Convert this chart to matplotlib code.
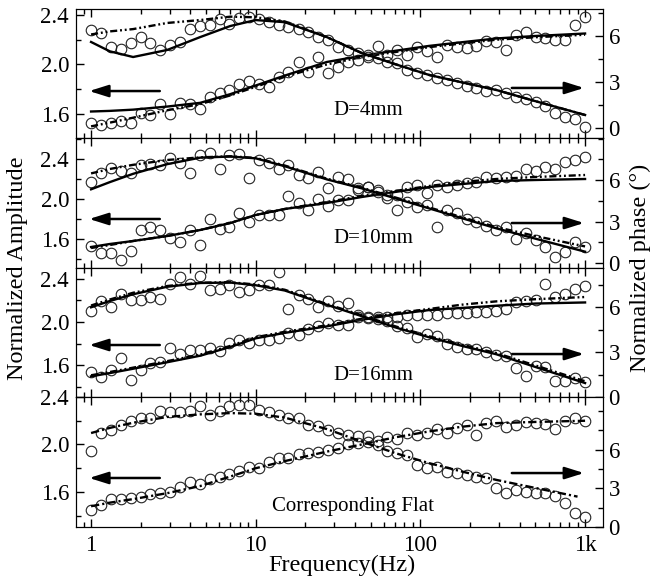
import matplotlib
matplotlib.use("Agg")
import matplotlib.pyplot as plt
from matplotlib.ticker import FixedLocator, MultipleLocator, NullFormatter

plt.rcParams['font.family'] = ['Liberation Serif', 'DejaVu Serif']
plt.rcParams['font.size'] = 16.5

# Measured frequencies (Hz)
freq = [1, 1.15, 1.32, 1.51, 1.74, 2.0, 2.29, 2.63, 3.02, 3.47, 3.98, 4.57, 5.25,
        6.03, 6.92, 7.94, 9.12, 10.5, 12.0, 13.8, 15.8, 18.2, 20.9, 24.0, 27.5,
        31.6, 36.3, 41.7, 47.9, 55.0, 63.1, 72.4, 83.2, 95.5, 110, 126, 145, 166,
        191, 219, 251, 288, 331, 380, 437, 501, 575, 661, 759, 871, 1000]

# D=4mm
amp_4mm = [1.53, 1.51, 1.53, 1.54, 1.53, 1.61, 1.59, 1.68, 1.60, 1.69, 1.68, 1.64, 1.74,
           1.77, 1.79, 1.84, 1.87, 1.84, 1.82, 1.90, 1.94, 2.02, 1.94, 2.06, 1.93,
           1.98, 2.02, 2.04, 2.06, 2.15, 2.08, 2.12, 2.08, 2.14, 2.11, 2.06, 2.16, 2.14,
           2.13, 2.15, 2.19, 2.18, 2.12, 2.24, 2.26, 2.22, 2.21, 2.20, 2.20, 2.32, 2.38]
phase_4mm = [6.39, 6.19, 5.28, 5.15, 5.54, 5.93, 5.54, 5.09, 5.41, 5.61, 6.45, 6.65, 6.72,
             7.10, 6.78, 7.17, 7.24, 7.10, 6.91, 6.72, 6.59, 6.45, 6.26, 5.93, 5.74,
             5.28, 5.09, 4.89, 4.76, 4.56, 4.30, 4.24, 3.78, 3.59, 3.46, 3.26, 3.13, 2.93,
             2.74, 2.61, 2.41, 2.48, 2.28, 2.02, 1.89, 1.70, 1.43, 0.98, 0.72, 0.59, 0.07]

# D=10mm
amp_10mm = [1.53, 1.46, 1.46, 1.39, 1.48, 1.69, 1.72, 1.69, 1.61, 1.57, 1.69, 1.54, 1.80,
            1.70, 1.72, 1.86, 1.77, 1.84, 1.84, 1.84, 2.03, 1.96, 1.89, 2.00, 1.93,
            1.99, 1.99, 2.09, 2.12, 2.07, 2.04, 2.04, 2.12, 2.14, 2.06, 2.14, 2.12, 2.14,
            2.16, 2.17, 2.22, 2.21, 2.22, 2.23, 2.30, 2.28, 2.32, 2.30, 2.37, 2.39, 2.42]
phase_10mm = [5.88, 6.53, 6.85, 6.67, 6.53, 7.09, 7.16, 7.09, 7.57, 7.21, 6.53, 7.81, 7.93,
              6.77, 7.81, 7.86, 6.12, 7.45, 7.26, 6.77, 7.09, 6.36, 6.12, 6.60, 5.40,
              6.24, 6.05, 5.40, 5.52, 5.28, 4.68, 3.83, 4.43, 4.07, 4.19, 2.62, 3.83, 3.59,
              3.16, 2.99, 2.68, 2.39, 2.62, 1.71, 2.19, 1.66, 1.18, 0.46, 0.82, 1.54, 1.18]

# D=16mm
amp_16mm = [1.54, 1.49, 1.56, 1.67, 1.47, 1.56, 1.62, 1.63, 1.76, 1.71, 1.74, 1.74, 1.76,
            1.73, 1.81, 1.83, 1.81, 1.83, 1.83, 1.85, 1.90, 1.88, 1.94, 1.96, 1.99,
            1.97, 1.97, 2.05, 2.05, 2.03, 2.05, 2.05, 2.06, 2.06, 2.06, 2.06, 2.08, 2.08,
            2.08, 2.09, 2.09, 2.10, 2.12, 2.18, 2.19, 2.20, 2.35, 2.23, 2.26, 2.30, 2.33]
phase_16mm = [5.72, 6.37, 5.98, 6.85, 6.48, 6.48, 6.70, 6.54, 7.56, 8.00, 7.56, 8.06, 7.13,
              7.20, 7.50, 7.02, 7.13, 7.45, 7.45, 8.33, 5.89, 6.80, 6.54, 5.98, 6.37,
              6.05, 6.26, 5.50, 5.28, 5.33, 5.07, 4.74, 4.63, 3.98, 4.19, 4.09, 3.54, 3.33,
              3.22, 3.22, 3.00, 2.79, 2.72, 1.91, 1.37, 2.07, 2.02, 1.04, 1.04, 1.26, 0.98]

# Corresponding flat
amp_flat = [1.45, 1.49, 1.54, 1.54, 1.55, 1.56, 1.58, 1.59, 1.60, 1.64, 1.68, 1.67, 1.71,
            1.73, 1.75, 1.78, 1.81, 1.80, 1.85, 1.89, 1.89, 1.92, 1.93, 1.94, 1.95,
            1.97, 2.00, 2.01, 2.02, 2.03, 2.06, 2.05, 2.10, 2.08, 2.10, 2.13, 2.10, 2.14,
            2.16, 2.08, 2.18, 2.20, 2.15, 2.16, 2.19, 2.18, 2.17, 2.13, 2.20, 2.22, 2.20]
phase_flat = [5.94, 7.30, 7.56, 7.95, 8.21, 8.47, 8.47, 8.98, 8.90, 8.90, 8.98, 9.37, 8.72,
              8.98, 9.37, 9.50, 9.50, 9.06, 8.90, 8.72, 8.47, 8.47, 7.95, 7.82, 7.56,
              7.30, 7.17, 7.04, 7.04, 6.39, 5.87, 5.74, 5.61, 4.83, 4.57, 4.70, 4.31, 4.18,
              4.05, 3.92, 3.79, 3.01, 2.67, 2.88, 2.75, 2.62, 2.62, 2.41, 1.85, 1.11, 0.80]

# Model curves (solid and dash-dot)
fit_f = [1, 1.3, 1.8, 2.9, 4.6, 7, 10, 15, 27, 44, 70, 113, 180, 289, 500, 1000]
fit_f_flat = [1, 1.3, 1.8, 2.9, 4.6, 7, 10, 15, 27, 44, 70, 113, 180, 289, 500, 900]

amp_4mm_solid = [1.62, 1.625, 1.635, 1.66, 1.69, 1.76, 1.83, 1.91, 2.02, 2.07, 2.11, 2.15, 2.18, 2.21, 2.23, 2.25]
amp_4mm_dd = [1.50, 1.53, 1.57, 1.63, 1.68, 1.75, 1.82, 1.90, 2.00, 2.06, 2.10, 2.14, 2.17, 2.20, 2.22, 2.24]
phase_4mm_solid = [5.61, 5.00, 4.63, 5.09, 5.93, 6.65, 7.04, 6.90, 5.93, 4.89, 4.17, 3.46, 2.97, 2.48, 1.75, 0.85]
phase_4mm_dd = [6.10, 6.30, 6.45, 6.85, 7.04, 7.26, 7.22, 6.95, 5.93, 4.89, 4.17, 3.46, 2.97, 2.48, 1.75, 0.85]

amp_10mm_solid = [1.52, 1.55, 1.58, 1.63, 1.69, 1.76, 1.84, 1.90, 1.96, 2.02, 2.07, 2.12, 2.15, 2.18, 2.19, 2.20]
amp_10mm_dd = [1.51, 1.54, 1.58, 1.63, 1.69, 1.76, 1.84, 1.90, 1.97, 2.03, 2.08, 2.13, 2.17, 2.20, 2.22, 2.24]
phase_10mm_solid = [5.33, 5.85, 6.45, 7.15, 7.62, 7.70, 7.57, 7.00, 6.05, 5.40, 4.69, 3.95, 3.23, 2.51, 1.76, 0.82]
phase_10mm_dd = [6.48, 6.80, 7.10, 7.45, 7.64, 7.72, 7.60, 7.05, 6.10, 5.45, 4.75, 4.02, 3.30, 2.60, 1.95, 1.20]

amp_16mm_solid = [1.50, 1.53, 1.57, 1.63, 1.69, 1.77, 1.85, 1.90, 1.96, 2.02, 2.07, 2.11, 2.13, 2.15, 2.17, 2.18]
amp_16mm_dd = [1.51, 1.54, 1.58, 1.64, 1.70, 1.78, 1.86, 1.91, 1.97, 2.03, 2.08, 2.12, 2.16, 2.19, 2.21, 2.23]
phase_16mm_solid = [5.98, 6.40, 6.85, 7.35, 7.60, 7.63, 7.45, 7.10, 6.15, 5.39, 4.65, 3.98, 3.40, 2.85, 2.00, 0.93]
phase_16mm_dd = [6.10, 6.50, 6.95, 7.40, 7.62, 7.65, 7.50, 7.15, 6.20, 5.45, 4.72, 4.05, 3.48, 2.93, 2.10, 1.05]

amp_flat_dd = [1.48, 1.51, 1.54, 1.59, 1.65, 1.73, 1.80, 1.86, 1.94, 2.00, 2.06, 2.11, 2.15, 2.18, 2.19, 2.20]
phase_flat_dd = [7.30, 7.70, 8.10, 8.55, 8.75, 8.85, 8.80, 8.50, 7.61, 6.64, 5.75, 4.96, 4.30, 3.66, 3.03, 2.36]

W, H = 655, 587
fig = plt.figure(figsize=(W / 100, H / 100), dpi=100)

x0, x1 = 76 / W, 603 / W
dd2 = (0, (3, 1.2, 0.8, 1.2, 0.8, 1.2))
dd1 = (0, (3.5, 1.3, 0.9, 1.3))

panels = [
    dict(top=9, bot=138, amp=amp_4mm, ph=phase_4mm,
         amp_fits=[(fit_f, amp_4mm_solid, '-'), (fit_f, amp_4mm_dd, dd2)],
         ph_fits=[(fit_f, phase_4mm_solid, '-'), (fit_f, phase_4mm_dd, dd2)],
         alim=(1.406, 2.448), plim=(-0.65, 7.76), label='D=4mm', lpos=(0.488, 0.217),
         larr=0.364, rarr=0.388),
    dict(top=138, bot=268, amp=amp_10mm, ph=phase_10mm,
         amp_fits=[(fit_f, amp_10mm_solid, '-'), (fit_f, amp_10mm_dd, dd2)],
         ph_fits=[(fit_f, phase_10mm_solid, '-'), (fit_f, phase_10mm_dd, dd2)],
         alim=(1.31, 2.61), plim=(-0.36, 9.04), label='D=10mm', lpos=(0.488, 0.23),
         larr=0.377, rarr=0.346),
    dict(top=268, bot=397, amp=amp_16mm, ph=phase_16mm,
         amp_fits=[(fit_f, amp_16mm_solid, '-'), (fit_f, amp_16mm_dd, dd2)],
         ph_fits=[(fit_f, phase_16mm_solid, '-'), (fit_f, phase_16mm_dd, dd2)],
         alim=(1.31, 2.497), plim=(0, 8.6), label='D=16mm', lpos=(0.488, 0.17),
         larr=0.403, rarr=0.333),
    dict(top=397, bot=527, amp=amp_flat, ph=phase_flat,
         amp_fits=[(fit_f, amp_flat_dd, dd1)],
         ph_fits=[(fit_f_flat, phase_flat_dd, dd1)],
         alim=(1.305, 2.4), plim=(0, 10.1), label='Corresponding Flat', lpos=(0.372, 0.154),
         larr=0.377, rarr=0.415),
]

mk = dict(ls='none', marker='o', ms=7.6, mfc='none', mec='#222222', mew=0.8)

for i, p in enumerate(panels):
    rect = [x0, 1 - p['bot'] / H, x1 - x0, (p['bot'] - p['top']) / H]
    ax = fig.add_axes(rect)
    tw = ax.twinx()

    # amplitude on the left axis, phase on the right axis
    ax.plot(freq, p['amp'], **mk)
    for f, v, ls in p['amp_fits']:
        ax.plot(f, v, color='k', lw=1.7, linestyle=ls)
    tw.plot(freq, p['ph'], **mk)
    for f, v, ls in p['ph_fits']:
        tw.plot(f, v, color='k', lw=1.7, linestyle=ls)

    ax.set_xscale('log')
    ax.set_xlim(0.81, 1285)
    ax.set_ylim(*p['alim'])
    tw.set_ylim(*p['plim'])

    ax.yaxis.set_major_locator(FixedLocator([1.6, 2.0, 2.4]))
    ax.yaxis.set_minor_locator(MultipleLocator(0.2))
    ax.yaxis.set_major_formatter(plt.FuncFormatter(lambda v, pos: f"{v:.1f}"))
    tw.yaxis.set_major_locator(FixedLocator([0, 3, 6]))
    tw.yaxis.set_minor_locator(MultipleLocator(1.5))

    ax.set_xticks([1, 10, 100, 1000])
    ax.xaxis.set_minor_formatter(NullFormatter())
    if i == 3:
        ax.set_xticklabels(['1', '10', '100', '1k'])
    else:
        ax.set_xticklabels([])

    ax.tick_params(which='both', direction='in', top=True, right=False, width=1)
    ax.tick_params(which='major', length=6)
    ax.tick_params(which='minor', length=3.5)
    ax.tick_params(axis='y', pad=5)
    ax.tick_params(axis='x', pad=6)
    tw.tick_params(which='both', direction='in', width=1, pad=4)
    tw.tick_params(which='major', length=6)
    tw.tick_params(which='minor', length=3.5)

    ax.text(p['lpos'][0], p['lpos'][1], p['label'], transform=ax.transAxes,
            fontsize=15, va='center', ha='left')

    arrow = dict(arrowstyle='-|>,head_length=0.7,head_width=0.22', lw=1.8, color='k',
                 shrinkA=0, shrinkB=0)
    ax.annotate('', xy=(0.025, p['larr']), xytext=(0.159, p['larr']),
                xycoords='axes fraction', arrowprops=arrow)
    ax.annotate('', xy=(0.964, p['rarr']), xytext=(0.827, p['rarr']),
                xycoords='axes fraction', arrowprops=arrow)

fig.text(0.027, 1 - 268 / H, 'Normalized Amplitude', rotation=90, fontsize=17.5,
         ha='center', va='center')
fig.text(0.977, 1 - 268 / H, 'Normalized phase (°)', rotation=90, fontsize=17.5,
         ha='center', va='center')
fig.text(0.522, 1 - 565 / H, 'Frequency(Hz)', fontsize=17.5, ha='center', va='center')

fig.savefig('out.png', dpi=100)
